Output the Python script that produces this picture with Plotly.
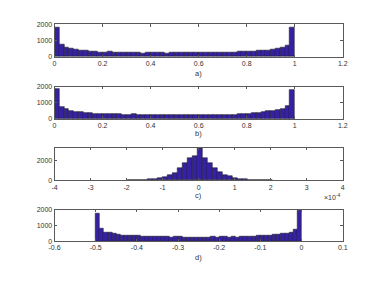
import numpy as np
import plotly.graph_objects as go

# ---------------- data ----------------
# a) 50 bins on [0, 1]
a_start, a_width = 0.0, 0.02
a_counts = [1820, 750, 600, 500, 440, 420, 400, 360, 340, 300,
            300, 310, 300, 290, 280, 270, 270, 270, 240, 250,
            260, 270, 260, 240, 260, 250, 260, 260, 250, 270,
            260, 280, 260, 260, 270, 280, 280, 300, 310, 320,
            340, 350, 380, 400, 420, 460, 520, 600, 730, 1800]

# b) 50 bins on [0, 1]
b_start, b_width = 0.0, 0.02
b_counts = [1860, 755, 610, 490, 450, 430, 390, 370, 330, 330,
            305, 305, 285, 285, 265, 265, 285, 265, 260, 250,
            265, 245, 270, 250, 260, 255, 245, 265, 250, 260,
            250, 265, 255, 250, 270, 265, 270, 275, 290, 330,
            330, 370, 400, 430, 470, 490, 550, 650, 800, 1840]

# c) values in units of 1e-4
c_start, c_width = -1.962, 0.138
c_counts = [8, 15, 35, 65, 100, 160, 225, 320, 480, 740,
            1170, 1750, 2230, 2400, 3200, 2230, 1700, 1210, 830, 500,
            370, 260, 160, 100, 65, 35, 25, 12, 6]

# d) 50 bins on [-0.5, 0]
d_start, d_width = -0.5, 0.01
d_counts = [1735, 816, 571, 551, 449, 408, 367, 347, 347, 347,
            326, 306, 306, 286, 290, 280, 290, 275, 250, 260,
            255, 250, 245, 245, 245, 250, 245, 250, 255, 250,
            255, 265, 250, 255, 245, 265, 306, 265, 286, 326,
            347, 367, 347, 410, 410, 450, 470, 550, 755, 1940]

panel_labels = ["a)", "b)", "c)", "d)"]

# ---------------- figure ----------------
W, H = 383, 287
fill = "rgb(53,33,162)"
edge = "rgb(30,30,40)"
axcol = "rgb(90,90,90)"
txtcol = "rgb(50,50,50)"
font = dict(family="Liberation Sans, Arial, sans-serif", size=7, color=txtcol)

x0, x1 = 50 / W, 346.7 / W
rows = [(21, 54.3), (85, 117.7), (147.7, 180.7), (210.7, 243)]
doms = [[(H - b) / H, (H - t) / H] for t, b in rows]

fig = go.Figure()
series = [(a_start, a_width, a_counts), (b_start, b_width, b_counts),
          (c_start, c_width, c_counts), (d_start, d_width, d_counts)]
for i, (s, w, cnt) in enumerate(series):
    cnt = np.array(cnt)
    centers = s + w * (np.arange(len(cnt)) + 0.5)
    sfx = "" if i == 0 else str(i + 1)
    fig.add_trace(go.Bar(x=centers, y=cnt, width=w,
                         marker=dict(color=fill, line=dict(color=edge, width=0.6)),
                         xaxis="x" + sfx, yaxis="y" + sfx, showlegend=False,
                         hoverinfo="skip"))

xranges = [[0, 1.2], [0, 1.2], [-4, 4], [-0.6, 0.1]]
xticks = [[0, 0.2, 0.4, 0.6, 0.8, 1, 1.2], [0, 0.2, 0.4, 0.6, 0.8, 1, 1.2],
          [-4, -3, -2, -1, 0, 1, 2, 3, 4],
          [-0.6, -0.5, -0.4, -0.3, -0.2, -0.1, 0, 0.1]]
xtext = [["0", "0.2", "0.4", "0.6", "0.8", "1", "1.2"],
         ["0", "0.2", "0.4", "0.6", "0.8", "1", "1.2"],
         ["-4", "-3", "-2", "-1", "0", "1", "2", "3", "4"],
         ["-0.6", "-0.5", "-0.4", "-0.3", "-0.2", "-0.1", "0", "0.1"]]
yranges = [[0, 2000], [0, 2000], [0, 3200], [0, 2000]]
yticks = [[0, 1000, 2000], [0, 1000, 2000], [0, 2000], [0, 1000, 2000]]

layout = dict(width=W, height=H, margin=dict(l=0, r=0, t=0, b=0),
              paper_bgcolor="white", plot_bgcolor="white", bargap=0,
              font=font)
for i in range(4):
    sfx = "" if i == 0 else str(i + 1)
    layout["xaxis" + sfx] = dict(domain=[x0, x1], range=xranges[i], anchor="y" + sfx,
                                 tickvals=xticks[i], ticktext=xtext[i],
                                 showline=True, linecolor=axcol, linewidth=0.8, mirror="ticks",
                                 ticks="inside", ticklen=2.5, tickcolor=axcol, tickwidth=0.8,
                                 showgrid=False, zeroline=False, tickfont=font)
    layout["yaxis" + sfx] = dict(domain=doms[i], range=yranges[i], anchor="x" + sfx,
                                 tickvals=yticks[i],
                                 showline=True, linecolor=axcol, linewidth=0.8, mirror="ticks",
                                 ticks="inside", ticklen=2.5, tickcolor=axcol, tickwidth=0.8,
                                 showgrid=False, zeroline=False, tickfont=font)
fig.update_layout(**layout)

label_y = [71, 133, 196.5, 260]
for lab, yy in zip(panel_labels, label_y):
    fig.add_annotation(x=198.3 / W, y=(H - yy) / H, xref="paper", yref="paper",
                       text=lab, showarrow=False, font=dict(size=7.5, color=txtcol,
                       family="Liberation Sans, Arial, sans-serif"),
                       xanchor="center", yanchor="middle")
fig.add_annotation(x=346.7 / W, y=(H - 197.5) / H, xref="paper", yref="paper",
                   text="\u00d710<sup>-4</sup>", showarrow=False,
                   font=dict(size=7, color=txtcol,
                             family="Liberation Sans, Arial, sans-serif"),
                   xanchor="right", yanchor="middle")

fig.write_html("out.html", config={"displayModeBar": False},
               post_script="document.body.style.margin='0';document.body.style.overflow='hidden';")
